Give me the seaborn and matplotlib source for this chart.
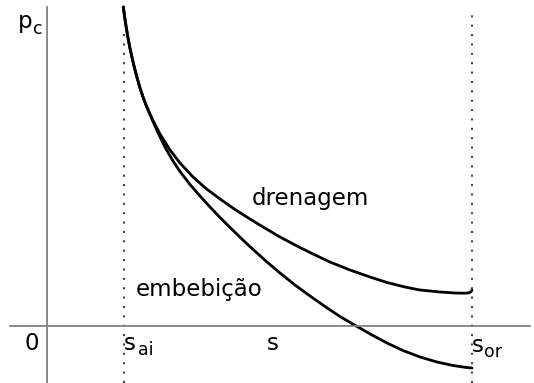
import numpy as np
import pandas as pd
import matplotlib
matplotlib.use("Agg")
import matplotlib.pyplot as plt
import seaborn as sns

# Saturation (s) and capillary pressure (pc) in arbitrary units
s_dren = [76.3, 77.5, 79, 81, 83, 85, 87, 90, 93, 96, 99, 102, 106, 113, 123, 133,
          146, 159, 173, 188, 203, 216, 233, 250, 266, 283, 303, 323, 340, 358, 373,
          393, 408, 418, 422, 424, 425]
pc_dren = [319, 310, 300, 288, 277.5, 268.5, 260, 248.5, 238, 229, 221, 214, 205.5,
           192, 176, 163, 149, 137.5, 127, 116.5, 107, 99, 89, 80, 72, 64, 56, 49,
           43.5, 39, 36, 34, 33, 32.8, 33.2, 34.2, 36]

s_emb = [76.3, 77.5, 79, 81, 83, 85, 87, 90, 93, 96, 99, 102, 106, 110, 115, 119,
         126, 133, 143, 153, 163, 173, 183, 198, 210, 220, 233, 248, 263, 278, 293,
         310, 325, 340, 356, 373, 390, 406, 418, 425]
pc_emb = [319, 310, 300, 288, 277.5, 268.5, 260, 248.5, 238, 229, 221, 214, 204.5,
          195.5, 185, 177, 165, 154.5, 141.5, 130, 119, 108.5, 98.5, 84, 73, 64, 53,
          41, 30, 19.5, 9.5, -0.5, -9, -17, -24.5, -31, -36, -39.5, -41.3, -42]

s_ai = 77
s_or = 425
curve_names = ["drenagem", "embebição"]

df = pd.concat([
    pd.DataFrame({"s": s_dren, "pc": pc_dren, "curva": curve_names[0]}),
    pd.DataFrame({"s": s_emb, "pc": pc_emb, "curva": curve_names[1]}),
])

sns.set_style("white")
plt.rcParams['font.family'] = ['DejaVu Sans']

fig = plt.figure(figsize=(5.34, 3.83), dpi=100)
ax = fig.add_axes([0, 0, 1, 1])

sns.lineplot(data=df, x="s", y="pc", hue="curva", units="curva", estimator=None,
             sort=False, palette=["black", "black"], linewidth=2.0, legend=False, ax=ax)

xmin, xmax = -47, 487
ymin, ymax = -57, 326
ax.set_xlim(xmin, xmax)
ax.set_ylim(ymin, ymax)

# axes through the origin
for side in ["top", "right"]:
    ax.spines[side].set_visible(False)
ax.spines["left"].set_position(("data", 0))
ax.spines["bottom"].set_position(("data", 0))
ax.spines["left"].set_bounds(ymin, 319)
ax.spines["bottom"].set_bounds(-37, 483)
for side in ["left", "bottom"]:
    ax.spines[side].set_color("#808080")
    ax.spines[side].set_linewidth(1.3)
ax.set_xticks([])
ax.set_yticks([])
ax.set_xlabel("")
ax.set_ylabel("")

# dotted markers at s_ai and s_or
ax.plot([s_ai, s_ai], [ymin, 293], color="#444444", lw=1.5, linestyle=(0, (1, 3.5)))
ax.plot([s_or, s_or], [ymin, 316], color="#444444", lw=1.5, linestyle=(0, (1, 3.5)))

fs = 16.5
fsub = 12.5
tc = "black"
ax.text(-29, 298, "p", fontsize=fs, ha="left", va="baseline", color=tc)
ax.text(-14, 291.5, "c", fontsize=fsub, ha="left", va="baseline", color=tc)
ax.text(-15.5, -24, "0", fontsize=fs, ha="center", va="baseline", color=tc)
ax.text(77, -24, "s", fontsize=fs, ha="left", va="baseline", color=tc)
ax.text(91, -29, "ai", fontsize=fsub, ha="left", va="baseline", color=tc)
ax.text(226, -24, "s", fontsize=fs, ha="center", va="baseline", color=tc)
ax.text(425, -26, "s", fontsize=fs, ha="left", va="baseline", color=tc)
ax.text(437, -31, "or", fontsize=fsub, ha="left", va="baseline", color=tc)
ax.text(205, 121, curve_names[0], fontsize=fs, ha="left", va="baseline", color=tc)
ax.text(89, 30, curve_names[1], fontsize=fs, ha="left", va="baseline", color=tc)

fig.savefig("out.png", dpi=100)
